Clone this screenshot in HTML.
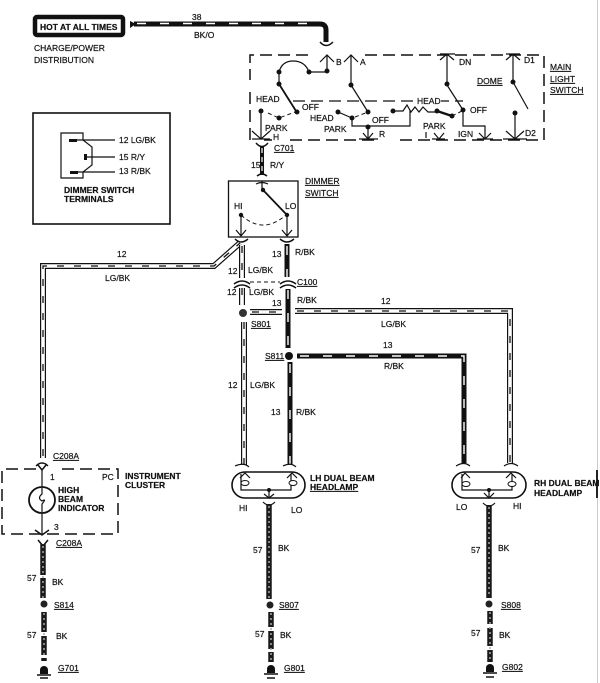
<!DOCTYPE html>
<html><head><meta charset="utf-8"><style>
html,body{margin:0;padding:0;background:#fff;width:600px;height:683px;overflow:hidden}
svg{display:block}
text{font-family:"Liberation Sans",sans-serif;font-size:8.5px;fill:#111;stroke:#111;stroke-width:.2}
.b{fill:none;stroke:#111;stroke-width:6}
.w{fill:none;stroke:#fff;stroke-width:3.6}
.d{fill:none;stroke:#111;stroke-width:1.3;stroke-dasharray:7 10}
.k{fill:none;stroke:#111;stroke-width:5}
.s{fill:none;stroke:#fff;stroke-width:1.4;stroke-dasharray:9 14}
.g{fill:none;stroke:#1a1a1a;stroke-width:5.5}
.h{fill:none;stroke:#aaa;stroke-width:1.5;stroke-dasharray:2 3}
.l{fill:none;stroke:#111;stroke-width:1.2}
.t{fill:none;stroke:#111;stroke-width:1.8}
.da{fill:none;stroke:#111;stroke-width:1.5;stroke-dasharray:12 6}
.dt{fill:none;stroke:#111;stroke-width:1;stroke-dasharray:4 3}
</style></head><body>
<svg width="600" height="683" viewBox="0 0 600 683" xmlns="http://www.w3.org/2000/svg">
<rect width="600" height="683" fill="#fff"/>
<line x1="597.5" y1="0" x2="597.5" y2="683" stroke="#ccc" stroke-width="1"/>
<rect x="596" y="470" width="2" height="28" fill="#222"/>

<!-- hot box -->
<rect x="35" y="17" width="88" height="18" rx="2" fill="#fff" stroke="#111" stroke-width="4.5"/>
<text x="40" y="30" font-weight="bold" style="font-size:8.5px">HOT AT ALL TIMES</text>
<text x="34" y="51" style="font-size:8.5px">CHARGE/POWER</text>
<text x="34" y="63" style="font-size:8.5px">DISTRIBUTION</text>
<path d="M130 21 L136 24 L130 28Z" fill="#111"/>
<path class="k" d="M134 24 H320 Q326 24 326 30 V42"/>
<path class="s" d="M137 23.500 H320"/>
<text x="192" y="20">38</text>
<text x="194" y="38">BK/O</text>
<path class="l" d="M320 42 Q326 49 333 42" style="stroke-width:1.5"/>

<!-- terminals box -->
<rect x="33" y="113" width="137" height="111" fill="none" stroke="#111" stroke-width="1.6"/>
<path class="l" d="M61 133 H83 V140 L92 147 V165 L83 172 V178 H61Z"/>
<path class="l" d="M74 140 H115 M85 157 H115 M74 172 H115"/>
<rect x="69" y="139" width="8" height="3" fill="#111"/>
<rect x="84" y="154" width="3" height="6" fill="#111"/>
<rect x="70" y="171" width="8" height="3" fill="#111"/>
<text x="119" y="143">12 LG/BK</text>
<text x="119" y="160">15 R/Y</text>
<text x="119" y="174">13 R/BK</text>
<text x="64" y="193" font-weight="bold">DIMMER SWITCH</text>
<text x="64" y="202" font-weight="bold">TERMINALS</text>

<!-- main light switch -->
<path class="da" d="M308 55 H250 V80 M250 92 V140 M264 140 H272 M290 140 H375 M400 140 H544 V55 H360"/>
<path class="da" d="M293 101 H463" style="stroke-width:1.2"/>
<g class="l">
<path d="M327 55 V71 M320 62 L327 55 L334 62 M351 55 V85 M344 62 L351 55 L358 62 M447 55 V85 M440 54 H455 M440 60 L447 54 L454 60 M513 55 V81 M506 54 H520 M506 60 L513 54 L520 60"/>
<path d="M279 72 Q282 61 293 61 Q305 61 309 72 M279 72 V85 M309 72 H327"/>
<path d="M261 110 V139 M252 131 L261 139 L270 131 M252 139 H270"/>
<path d="M351 85 L368 112"/>
<path d="M447 85 L463 110 M463 110 V126 H485 V139 M477 139 H493 M479 133 L485 139 L491 133"/>
<path d="M513 82 L528 109 M515 113 V139 M506 131 L515 139 L524 131 M503 139 H527"/>
<path d="M338 112 L352 118 M352 118 V126 H410 V110"/>
<path d="M393 111 H403 L407 105 L411 112 L415 107 L419 112 L423 107 L428 112 H437"/>
<path d="M359 139 H378 M363 133 L368 139 L373 133 M368 126 V139"/>
<path d="M432 139 H445 M434 133 L439 139 L444 133 M426 132 V138"/>
</g>
<path class="t" d="M279 84 L296 111"/>
<path class="t" style="stroke-width:2.4" d="M437 111 L452 116"/>
<path class="dt" d="M268 113 L279 118 L295 112 M355 117 L368 112 M452 116 L462 111"/>
<g fill="#111">
<circle cx="279" cy="72" r="2.500"/><circle cx="309" cy="72" r="2.500"/><circle cx="327" cy="71" r="2.500"/><circle cx="279" cy="84" r="2.500"/>
<circle cx="297" cy="112" r="2.500"/><circle cx="261" cy="111" r="2.500"/><circle cx="279" cy="118" r="2.500"/>
<circle cx="351" cy="85" r="2.500"/><circle cx="368" cy="112" r="2.500"/><circle cx="338" cy="112" r="2.500"/><circle cx="352" cy="118" r="2.500"/><circle cx="368" cy="127" r="2.500"/>
<circle cx="393" cy="111" r="2.500"/><circle cx="437" cy="111" r="2.500"/><circle cx="452" cy="116" r="2.500"/>
<circle cx="447" cy="84" r="2.500"/><circle cx="463" cy="110" r="2.500"/><circle cx="513" cy="82" r="2.500"/><circle cx="515" cy="113" r="2.500"/>
</g>
<text x="336" y="65">B</text>
<text x="360" y="65">A</text>
<text x="459" y="65">DN</text>
<text x="524" y="63">D1</text>
<text x="477" y="84" style="text-decoration:underline">DOME</text>
<text x="550" y="70" style="text-decoration:underline">MAIN</text>
<text x="550" y="82" style="text-decoration:underline">LIGHT</text>
<text x="550" y="93" style="text-decoration:underline">SWITCH</text>
<rect x="255" y="94" width="24" height="10" fill="#fff"/>
<text x="256" y="102">HEAD</text>
<text x="302" y="110">OFF</text>
<text x="310" y="121">HEAD</text>
<text x="324" y="132">PARK</text>
<text x="372" y="123">OFF</text>
<rect x="416" y="95" width="25" height="10" fill="#fff"/>
<text x="417" y="104">HEAD</text>
<text x="470" y="113">OFF</text>
<text x="265" y="131">PARK</text>
<text x="273" y="140">H</text>
<text x="379" y="137">R</text>
<text x="423" y="129">PARK</text>
<text x="458" y="137">IGN</text>
<text x="525" y="136">D2</text>
<text x="274" y="151" style="text-decoration:underline">C701</text>
<text x="251" y="168">15</text>
<text x="270" y="168">R/Y</text>
<path class="k" d="M262 147 V175" style="stroke-width:4"/>
<path class="s" d="M262 148 V174" style="stroke-width:1.2;stroke-dasharray:5 4"/>
<path class="l" d="M256 143 Q262 150 268 143 M257 176 Q262 172 267 176" style="stroke-width:1.5"/>

<!-- dimmer switch -->
<rect x="228.500" y="181" width="69.500" height="56" fill="none" stroke="#111" stroke-width="1.3"/>
<path class="l" d="M256 184 Q262 181 268 184"/>
<path class="l" d="M262 181 V190"/>
<path class="t" d="M263 190 L286 214"/>
<path class="l" d="M241 215 V236 M287 215 V236 M236 230 L241 236 L246 230 M282 230 L287 236 L292 230"/>
<path class="dt" d="M241 215 Q263 235 286 215"/>
<circle cx="263" cy="190" r="2.200" fill="#111"/><circle cx="241" cy="215" r="2.200" fill="#111"/><circle cx="287" cy="215" r="2.200" fill="#111"/>
<text x="234" y="209">HI</text>
<text x="285" y="209">LO</text>
<text x="305" y="184" style="text-decoration:underline">DIMMER</text>
<text x="305" y="196" style="text-decoration:underline">SWITCH</text>

<!-- LG/BK wires -->
<path class="b" d="M43 458 V266 H214 L240 243"/>
<path class="w" d="M43 458 V266 H214 L240 243"/>
<path class="d" d="M43 456 V266 H214 L240 243"/>
<path class="b" d="M242 245 V278"/><path class="w" d="M242 245 V278"/><path class="d" d="M242 246 V278"/>
<path class="b" d="M242 288 V305"/><path class="w" d="M242 288 V305"/><path class="d" d="M242 288 V305"/>
<path class="b" d="M244 322 V465"/><path class="w" d="M244 322 V465"/><path class="d" d="M244 322 V465"/>
<path class="b" d="M250 312 H282"/><path class="w" d="M250 312 H282"/><path class="d" d="M252 312 H282"/>
<path class="b" d="M295 311 H510 V463"/><path class="w" d="M295 311 H510 V463"/><path class="d" d="M297 311 H510 V463"/>

<!-- R/BK wires -->
<path class="k" d="M287 244 V277 M288 289 V348 M290 362 V465"/>
<path class="s" d="M287 246 V277 M288 290 V348 M290 364 V465"/>
<path class="k" d="M297 356 H464 V463"/>
<path class="s" d="M300 356 H464 V463"/>

<!-- connectors -->
<path class="l" d="M235 239 Q241 245 248 239 M280 239 Q287 245 294 239" style="stroke-width:1.5"/>
<path class="l" d="M234 284 Q242 278 250 284 M234 288 Q242 282 250 288 M280 284 Q288 278 296 284 M280 288 Q288 282 296 288" style="stroke-width:1.5"/>
<path class="dt" d="M250 282 H280"/>
<circle cx="243" cy="313" r="4" fill="#333"/>
<circle cx="289" cy="356" r="4" fill="#111"/>
<text x="228" y="274">12</text><text x="248" y="273">LG/BK</text>
<text x="227" y="295">12</text><text x="249" y="295">LG/BK</text>
<text x="272" y="257">13</text><text x="295" y="255">R/BK</text>
<text x="272" y="306">13</text><text x="297" y="303">R/BK</text>
<text x="297" y="285" style="text-decoration:underline">C100</text>
<text x="251" y="327" style="text-decoration:underline">S801</text>
<text x="265" y="359" style="text-decoration:underline">S811</text>
<text x="381" y="304">12</text><text x="381" y="327">LG/BK</text>
<text x="383" y="348">13</text><text x="384" y="369">R/BK</text>
<text x="117" y="257">12</text><text x="105" y="281">LG/BK</text>
<text x="228" y="388">12</text><text x="250" y="388">LG/BK</text>
<text x="271" y="415">13</text><text x="296" y="415">R/BK</text>

<!-- instrument cluster -->
<path class="da" d="M36 469 H2 V534 H118 V469 H60"/>
<path class="l" d="M42 470 V487 M42 513 V534"/>
<circle cx="42" cy="500" r="13" fill="none" stroke="#111" stroke-width="1.8"/>
<path class="l" d="M42 488 V494 Q37 498 42 501 Q47 498 42 504 V512"/>
<path class="l" d="M36 466 Q42 460 48 466 M35 530 L42 535 L49 530 M38 465 L42 470 L46 465" style="stroke-width:1.5"/>
<path class="l" d="M38 540 L43 546 L48 540" style="stroke-width:1.5"/>
<text x="50" y="480">1</text>
<text x="54" y="530">3</text>
<text x="102" y="480">PC</text>
<text x="58" y="493" font-weight="bold">HIGH</text>
<text x="58" y="502" font-weight="bold">BEAM</text>
<text x="58" y="511" font-weight="bold">INDICATOR</text>
<text x="125" y="479" font-weight="bold">INSTRUMENT</text>
<text x="125" y="488" font-weight="bold">CLUSTER</text>
<text x="53" y="459" style="text-decoration:underline">C208A</text>
<text x="56" y="546" style="text-decoration:underline">C208A</text>

<!-- left ground -->
<path class="g" d="M43 544 V575 M43 578 V598 M44 612 V632 M44 636 V655 M44 658 V661"/>
<path class="h" d="M43 546 V598 M44 613 V655"/>
<circle cx="44" cy="604" r="3.500" fill="#222"/>
<path d="M40 674 V670 A4 4 0 0 1 48 670 V674Z" fill="#111"/>
<path class="l" d="M37 675 H51 M40 678 H48" style="stroke-width:1.5"/>
<text x="27" y="581">57</text><text x="52" y="585">BK</text>
<text x="27" y="638">57</text><text x="56" y="639">BK</text>
<text x="54" y="608" style="text-decoration:underline">S814</text>
<text x="58" y="671" style="text-decoration:underline">G701</text>

<!-- LH headlamp -->
<rect x="232" y="472" width="73" height="26" rx="13" fill="none" stroke="#111" stroke-width="1.6"/>
<path class="l" d="M241 474 V490 H291 V474"/>
<ellipse cx="245" cy="483" rx="4" ry="2.500" fill="#fff" stroke="#111"/>
<ellipse cx="293" cy="483" rx="4" ry="2.500" fill="#fff" stroke="#111"/>
<path class="l" d="M240 478 L245 473 L250 478 M287 478 L292 473 L297 478 M264 494 L269 498 L274 494 M269 490 V498 M235 466 Q244 462 249 467 M283 466 Q291 462 296 467 M263 502 Q269 508 275 502"/>
<circle cx="269" cy="490" r="2" fill="#111"/>
<text x="239" y="511">HI</text><text x="291" y="513">LO</text>
<text x="310" y="481" font-weight="bold">LH DUAL BEAM</text>
<text x="310" y="490" font-weight="bold" style="text-decoration:underline">HEADLAMP</text>

<path class="g" d="M269 504 V599 M271 612 V627 M271 631 V649 M271 652 V662"/>
<path class="h" d="M269 506 V598 M271 613 V661"/>
<circle cx="270" cy="605" r="3.500" fill="#222"/>
<path d="M267 673 V669 A4 4 0 0 1 275 669 V673Z" fill="#111"/>
<path class="l" d="M264 674 H278 M267 678 H275" style="stroke-width:1.5"/>
<text x="253" y="553">57</text><text x="278" y="551">BK</text>
<text x="255" y="637">57</text><text x="280" y="638">BK</text>
<text x="279" y="608" style="text-decoration:underline">S807</text>
<text x="284" y="671" style="text-decoration:underline">G801</text>

<!-- RH headlamp -->
<rect x="452" y="472" width="74" height="26" rx="13" fill="none" stroke="#111" stroke-width="1.6"/>
<path class="l" d="M462 474 V490 H512 V474"/>
<ellipse cx="466" cy="484" rx="4" ry="2.500" fill="#fff" stroke="#111"/>
<ellipse cx="512" cy="484" rx="4" ry="2.500" fill="#fff" stroke="#111"/>
<path class="l" d="M461 478 L465 473 L470 478 M506 478 L511 473 L516 478 M484 493 L489 498 L494 493 M489 490 V498 M456 466 Q464 461 470 466 M504 466 Q511 461 518 466 M483 503 Q489 509 495 503"/>
<circle cx="489" cy="490" r="2" fill="#111"/>
<text x="456" y="510">LO</text><text x="513" y="509">HI</text>
<text x="534" y="486" font-weight="bold">RH DUAL BEAM</text>
<text x="534" y="496" font-weight="bold">HEADLAMP</text>

<path class="g" d="M489 505 V598 M490 611 V624 M490 628 V646 M490 650 V662"/>
<path class="h" d="M489 507 V597 M490 612 V661"/>
<circle cx="489" cy="604" r="3.500" fill="#222"/>
<path d="M486 672 V668 A4 4 0 0 1 494 668 V672Z" fill="#111"/>
<path class="l" d="M483 673 H497 M486 677 H494" style="stroke-width:1.5"/>
<text x="471" y="553">57</text><text x="498" y="551">BK</text>
<text x="471" y="636">57</text><text x="499" y="638">BK</text>
<text x="501" y="608" style="text-decoration:underline">S808</text>
<text x="502" y="670" style="text-decoration:underline">G802</text>
</svg>
</body></html>
